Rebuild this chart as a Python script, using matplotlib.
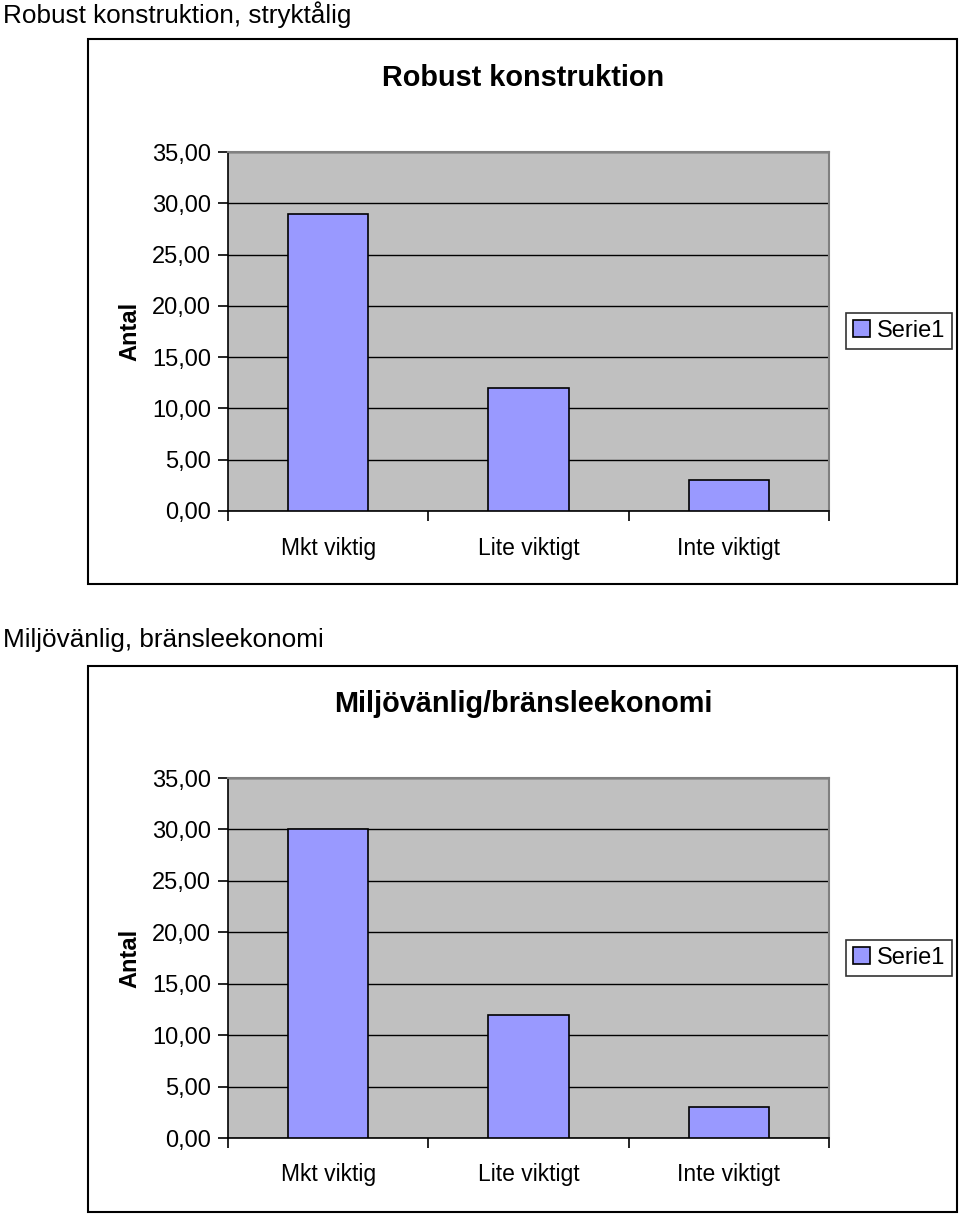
import matplotlib
matplotlib.use("Agg")
import matplotlib.pyplot as plt
import matplotlib.patches as mpatches
from matplotlib.ticker import FixedLocator, FuncFormatter

plt.rcParams["font.family"] = ["Liberation Sans", "DejaVu Sans"]

categories = ["Mkt viktig", "Lite viktigt", "Inte viktigt"]
robust_values = [29, 12, 3]
miljo_values = [30, 12, 3]
y_ticks = [0, 5, 10, 15, 20, 25, 30, 35]

W, H = 960, 1215
fig = plt.figure(figsize=(W / 100, H / 100), dpi=100)


def px_rect(x0, y0, x1, y1):
    # pixel box (top-left origin) -> figure fraction [left, bottom, width, height]
    return [x0 / W, 1 - y1 / H, (x1 - x0) / W, (y1 - y0) / H]


def draw_chart(box, plot, values, title, title_y, section, section_y, legend_y, cat_pad):
    # section heading above the chart frame
    fig.text(3 / W, 1 - section_y / H, section, fontsize=18.8, ha="left", va="center")
    # chart frame
    bx0, by0, bx1, by1 = box
    fig.add_artist(mpatches.Rectangle((bx0 / W, 1 - by1 / H), (bx1 - bx0) / W, (by1 - by0) / H,
                                      transform=fig.transFigure, fill=False,
                                      edgecolor="black", linewidth=1.5))
    fig.text(523 / W, 1 - title_y / H, title, fontsize=20.8, fontweight="bold",
             ha="center", va="center")

    ax = fig.add_axes(px_rect(*plot))
    ax.set_facecolor("#c0c0c0")
    xs = range(len(categories))
    ax.bar(xs, values, width=0.4, color="#9999ff", edgecolor="black", linewidth=1.2,
           zorder=3, label="Serie1")
    ax.set_xlim(-0.5, len(categories) - 0.5)
    ax.set_ylim(0, 35)
    ax.yaxis.set_major_locator(FixedLocator(y_ticks))
    ax.yaxis.set_major_formatter(FuncFormatter(lambda v, p: f"{v:.2f}".replace(".", ",")))
    ax.grid(axis="y", color="black", linewidth=1.0, zorder=1)
    ax.set_axisbelow(True)

    ax.set_xticks([i - 0.5 for i in range(len(categories) + 1)])
    ax.set_xticklabels([])
    ax.set_xticks(list(xs), minor=True)
    ax.set_xticklabels(categories, minor=True)
    ax.tick_params(axis="x", which="major", length=7, width=1.2, direction="out")
    ax.tick_params(axis="x", which="minor", length=0, pad=cat_pad, labelsize=16.5)
    ax.tick_params(axis="y", length=7, width=1.2, direction="out", labelsize=17, pad=5)

    for s in ("top", "right"):
        ax.spines[s].set_color("#808080")
        ax.spines[s].set_linewidth(1.5)
    for s in ("left", "bottom"):
        ax.spines[s].set_color("black")
        ax.spines[s].set_linewidth(1.2)

    ax.set_ylabel("Antal", fontsize=17, fontweight="bold", labelpad=8)

    leg = fig.legend(loc="center", bbox_to_anchor=(899 / W, 1 - legend_y / H),
                     fontsize=17, frameon=True, fancybox=False, handlelength=0.7,
                     handleheight=0.7, handletextpad=0.3, borderpad=0.3,
                     handles=ax.patches[:1], labels=["Serie1"])
    leg.get_frame().set_edgecolor("black")
    leg.get_frame().set_linewidth(1.2)
    return ax


draw_chart((88, 39, 957, 584), (228, 152, 829, 511), robust_values,
           "Robust konstruktion", 78,
           "Robust konstruktion, stryktålig", 15, 331, 19)
draw_chart((88, 666, 957, 1212), (228, 778, 829, 1138), miljo_values,
           "Miljövänlig/bränsleekonomi", 704,
           "Miljövänlig, bränsleekonomi", 640, 958, 18)

fig.savefig("out.png", dpi=100)
